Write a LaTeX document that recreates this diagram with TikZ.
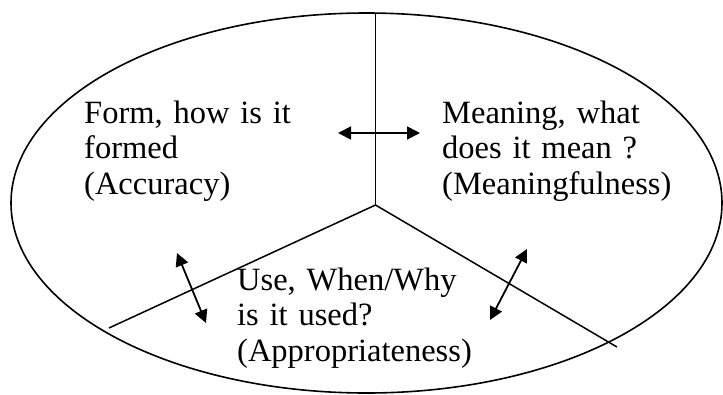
\documentclass[tikz,border=0pt]{standalone}
\usepackage{fontspec}
\setmainfont{Liberation Serif}
\usetikzlibrary{arrows.meta,shapes.geometric}
\begin{document}
\begin{tikzpicture}[x=1pt,y=-1pt,
  edge/.style={line width=1.5pt},
  dbl/.style={line width=1.8pt,{Triangle[length=13pt,width=13pt]}-{Triangle[length=13pt,width=13pt]}},
  label/.style={anchor=base west,inner sep=0pt,align=left,text width=260pt,font=\fontsize{32.5}{35.5}\selectfont}]
\useasboundingbox (0,0) rectangle (723,394);
\fill[white] (0,0) rectangle (723,394);
\node[draw,line width=1.6pt,ellipse,minimum width=711pt,minimum height=380pt,inner sep=0pt] (oval) at (366.5,203) {};
\coordinate (top) at (375.5,13);
\coordinate (ctr) at (375.5,205);
\coordinate (le) at (109,328);
\coordinate (re) at (617,347);
\draw[edge] (top) -- (ctr);
\draw[edge] (le) -- (ctr) -- (re);
\node[label] (form) at (84,123) {Form, how is it\\formed\\(Accuracy)};
\node[label] (mean) at (442,123) {Meaning, what\\does it mean ?\\(Meaningfulness)};
\node[label] (use) at (237,290) {Use, When/Why\\is it used?\\(Appropriateness)};
\coordinate (h1) at (338,133);
\coordinate (h2) at (420,133);
\coordinate (l1) at (177,253);
\coordinate (l2) at (206,323);
\coordinate (r1) at (527,249);
\coordinate (r2) at (490,320);
\draw[dbl] (h1) -- (h2);
\draw[dbl] (l1) -- (l2);
\draw[dbl] (r1) -- (r2);
\end{tikzpicture}
\end{document}
